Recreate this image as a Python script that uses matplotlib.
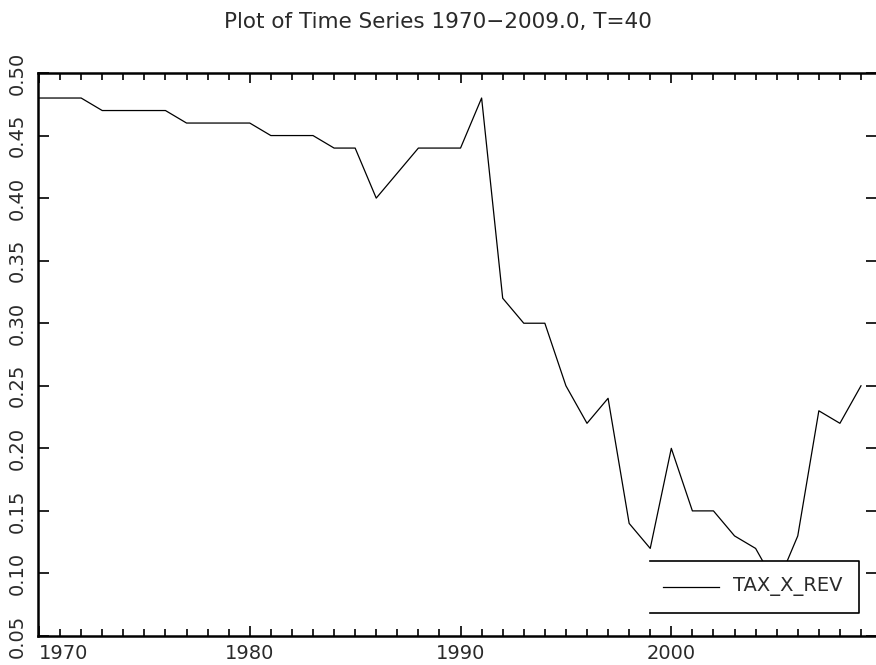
import matplotlib
matplotlib.use('Agg')
import matplotlib.pyplot as plt
from matplotlib.ticker import MultipleLocator, FixedLocator

anos = list(range(1970, 2010))
tax_x_rev = [0.48, 0.48, 0.48, 0.47, 0.47, 0.47, 0.47, 0.46, 0.46, 0.46,
             0.46, 0.45, 0.45, 0.45, 0.44, 0.44, 0.40, 0.42, 0.44, 0.44,
             0.44, 0.48, 0.32, 0.30, 0.30, 0.25, 0.22, 0.24, 0.14, 0.12,
             0.20, 0.15, 0.15, 0.13, 0.12, 0.09, 0.13, 0.23, 0.22, 0.25]
ticks_y = [0.05, 0.10, 0.15, 0.20, 0.25, 0.30, 0.35, 0.40, 0.45, 0.50]
ticks_x = [1970, 1980, 1990, 2000]
titulo = 'Plot of Time Series 1970\u22122009.0, T=40'
nome_serie = 'TAX_X_REV'

plt.rcParams['font.family'] = ['DejaVu Sans']
cor_texto = '#2a2a2a'

W, H = 876, 665
fig = plt.figure(figsize=(W / 100, H / 100), dpi=100)
ax = fig.add_axes([38 / W, 1 - 636 / H, (877 - 38) / W, (636 - 73) / H])

ax.plot(anos, tax_x_rev, color='black', linewidth=0.9)

ax.set_xlim(1970 - 1 / 21.07, 2009 + 16 / 21.07)
ax.set_ylim(0.05, 0.50)

for lado in ax.spines.values():
    lado.set_linewidth(1.8)

ax.xaxis.set_major_locator(FixedLocator(ticks_x))
ax.xaxis.set_minor_locator(MultipleLocator(1))
ax.yaxis.set_major_locator(FixedLocator(ticks_y))
ax.set_xticklabels([str(a) for a in ticks_x])
ax.set_yticklabels(['%.2f' % v for v in ticks_y])

ax.tick_params(axis='x', which='major', direction='in', length=7, width=1.2,
               top=True, bottom=True, labelsize=14, pad=6, labelcolor=cor_texto)
ax.tick_params(axis='x', which='minor', direction='in', length=5, width=1.2,
               top=True, bottom=True)
ax.tick_params(axis='y', which='major', direction='in', length=8, width=1.2,
               left=True, right=True, labelsize=14, pad=8, labelcolor=cor_texto,
               labelrotation=90)
for rotulo in ax.get_yticklabels():
    rotulo.set_va('center')
ax.get_xticklabels()[0].set_ha('left')

# caixa da legenda, aberta do lado esquerdo
x0, x1 = (650 - 38) / 839, (859 - 38) / 839
y0, y1 = (636 - 613) / 563, (636 - 561) / 563
ax.add_patch(plt.Rectangle((x0, y0), x1 - x0, y1 - y0, transform=ax.transAxes,
                           facecolor='white', edgecolor='none', zorder=3))
ax.plot([x0, x1, x1, x0], [y1, y1, y0, y0], transform=ax.transAxes,
        color='black', linewidth=1.2, zorder=4, clip_on=False)
ym = (636 - 587) / 563
ax.plot([(663 - 38) / 839, (719 - 38) / 839], [ym, ym], transform=ax.transAxes,
        color='black', linewidth=0.9, zorder=4)
ax.text((733 - 38) / 839, ym, nome_serie, transform=ax.transAxes, fontsize=14,
        color=cor_texto, va='center', ha='left', zorder=5)

fig.text(0.5, 1 - 22 / H, titulo, ha='center', va='center', fontsize=15.5,
         color=cor_texto)

fig.savefig('out.png', dpi=100)
